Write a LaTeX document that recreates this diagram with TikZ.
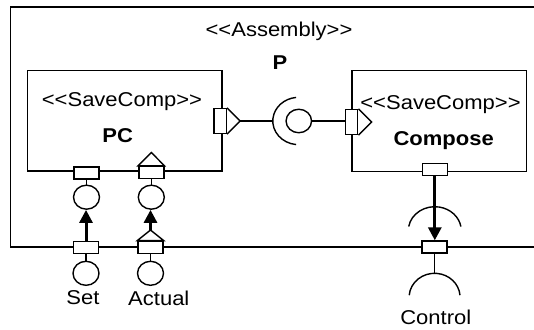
\documentclass[tikz,border=0pt]{standalone}
\usepackage{fontspec}
\setmainfont{Liberation Sans}[FakeStretch=1.1]
\usetikzlibrary{shapes.geometric,arrows.meta}
\begin{document}
\begin{tikzpicture}[x=1pt,y=1pt,yscale=-1,
  line width=1.4pt,
  txt/.style={font=\fontsize{20}{24}\selectfont, inner sep=0pt, anchor=base},
  btxt/.style={font=\fontsize{20}{24}\selectfont\bfseries, inner sep=0pt, anchor=base},
  compbox/.style={draw, rectangle, inner sep=0pt},
  portv/.style={draw, fill=white, rectangle, minimum width=12.5pt, minimum height=25pt, inner sep=0pt},
  porth/.style={draw, fill=white, rectangle, minimum width=25pt, minimum height=12pt, inner sep=0pt},
  ball/.style={draw, fill=white, ellipse, minimum width=26pt, minimum height=24pt, inner sep=0pt},
  flow/.style={line width=3pt, -{Triangle[length=13pt,width=13pt]}},
]
\useasboundingbox (0,0) rectangle (534,329);

% outer assembly (open to the right)
\draw (534,7) -- (10.7,7) -- (10.7,247) -- (534,247);

% component boxes
\node[compbox, minimum width=194.6pt, minimum height=100.3pt] (pc) at (124.5,120.8) {};
\node[compbox, minimum width=174.7pt, minimum height=101pt] (cp) at (439.4,120.7) {};

% texts
\node[txt] (asm) at (279,36.7) {<\kern0pt<Assembly>\kern0pt>};
\node[btxt] (plab) at (280,69.3) {P};
\node[txt] (pcst) at (122,106) {<\kern0pt<SaveComp>\kern0pt>};
\node[btxt] (pclab) at (117.7,142.3) {PC};
\node[txt] (cpst) at (440.5,109) {<\kern0pt<SaveComp>\kern0pt>};
\node[btxt] (cplab) at (443.7,145.7) {Compose};
\node[txt] (setlab) at (83,304) {Set};
\node[txt] (actlab) at (158.8,305) {Actual};
\node[txt] (ctllab) at (435.8,324.3) {Control};

% P connection
\node[portv] (pcR) at (220.1,121) {};
\coordinate (pcRtip) at (240,121);
\draw[fill=white, line join=miter] (pcR.north east) -- (pcRtip) -- (pcR.south east);
\coordinate (sockC) at (298.8,121);
\coordinate (sockL) at (272.8,121);
\draw (pcRtip) -- (sockL);
\draw (sockC) ++(96:26pt and 23.7pt) arc[start angle=96, end angle=264, x radius=26pt, y radius=23.7pt];
\node[ball, minimum width=25.5pt, minimum height=23.5pt] (pball) at (sockC) {};
\node[portv] (cpL) at (351.5,122) {};
\coordinate (cpLtip) at (371.7,122);
\draw[fill=white, line join=miter] (cpL.north east) -- (cpLtip) -- (cpL.south east);
\draw (pball.east) -- (pball.east -| cpL.west);

% Set
\node[porth] (setIn) at (86.5,173) {};
\node[ball] (setBall) at (86.5,197.2) {};
\draw (setIn.south) -- (setBall.north);
\node[porth] (setOut) at (86,247.3) {};
\node[ball] (setOutBall) at (86,273.3) {};
\draw (setOut.south) -- (setOutBall.north);
\draw[flow] (setOut.north) -- (setOut.north |- setBall.south);

% Actual
\node[porth] (actIn) at (151.3,172.5) {};
\coordinate (actInTip) at (151.3,152.5);
\draw[fill=white, line join=miter] (actIn.north west) -- (actInTip) -- (actIn.north east) -- cycle;
\node[ball] (actBall) at (151.3,197.2) {};
\draw (actIn.south) -- (actBall.north);
\node[porth] (actOut) at (150.5,247.3) {};
\coordinate (actOutTip) at (150.5,230);
\draw[fill=white, line join=miter] (actOut.north west) -- (actOutTip) -- (actOut.north east) -- cycle;
\node[ball] (actOutBall) at (150.5,273.3) {};
\draw (actOut.south) -- (actOutBall.north);
\draw[flow] (actOutTip) -- (actOutTip |- actBall.south);

% Control
\node[porth] (cpB) at (434.8,169.7) {};
\node[porth] (ctlOut) at (434.6,247) {};
\coordinate (ctlArcC) at (434.8,230.7);
\draw (ctlArcC) ++(190:26.5pt and 24pt) arc[start angle=190, end angle=350, x radius=26.5pt, y radius=24pt];
\draw[flow] (cpB.south) -- (cpB.south |- ctlOut.north);
\coordinate (ctlSockTop) at (434.6,273.3);
\draw (ctlOut.south) -- (ctlSockTop);
\coordinate (ctlSockC) at (434.6,297.3);
\draw (ctlSockC) ++(185:25.5pt and 24pt) arc[start angle=185, end angle=355, x radius=25.5pt, y radius=24pt];
\end{tikzpicture}
\end{document}
